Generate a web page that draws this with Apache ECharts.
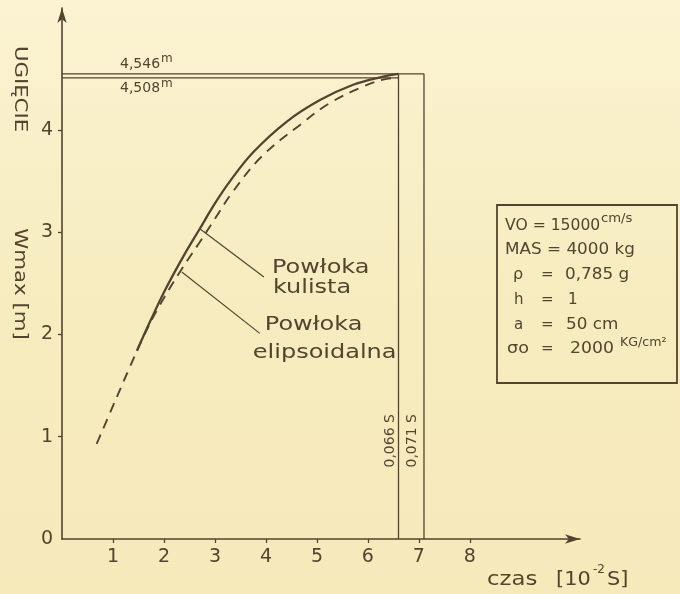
<!DOCTYPE html>
<html><head><meta charset="utf-8">
<script src="https://cdn.jsdelivr.net/npm/echarts@6/dist/echarts.min.js"></script>
<style>html,body{margin:0;padding:0;background:#f7edc3}#c{width:680px;height:594px}</style>
</head><body><div id="c"></div>
<script>
// ---- data (time in 10^-2 s, deflection in m) ----
const xTickValues = [1, 2, 3, 4, 5, 6, 7, 8];
const yTickValues = [0, 1, 2, 3, 4];
const kulistaT = [1.47, 1.75, 2.05, 2.4, 2.7, 3.0, 3.3, 3.75, 4.41, 5.06, 5.71, 6.3, 6.6];
const kulistaW = [1.84, 2.15, 2.46, 2.78, 3.03, 3.28, 3.50, 3.78, 4.08, 4.29, 4.44, 4.52, 4.546];
const elipsT = [0.68, 1.0, 1.33, 1.6, 1.9, 2.35, 2.7, 3.0, 3.33, 3.92, 4.7, 5.25, 5.9, 6.3, 6.6];
const elipsW = [0.93, 1.3, 1.68, 1.98, 2.27, 2.64, 2.9, 3.13, 3.38, 3.74, 4.06, 4.26, 4.42, 4.49, 4.508];
const maxW = [4.546, 4.508];
const maxWLabels = ['4,546', '4,508'];
const endT = [6.6, 7.1];
const endTLabels = ['0,066 S', '0,071 S'];
const leaderKulista = [[2.71, 3.03], [3.96, 2.56]];
const leaderElips = [[2.35, 2.61], [3.88, 2.01]];
const seriesNames = ['Powłoka kulista', 'Powłoka elipsoidalna'];

const ink = '#54432f';
const FONT = 'DejaVu Sans';
const zip = (a, b) => a.map((v, i) => [v, b[i]]);

const chart = echarts.init(document.getElementById('c'), null, {renderer: 'canvas'});

function T(text, x, y, size, opt) {
  opt = opt || {};
  return {
    type: 'text', x: x, y: y, rotation: opt.rot || 0,
    scaleX: opt.sx || 1, scaleY: 1, z: 10,
    style: {
      text: text, fontSize: size, fontFamily: FONT, fill: opt.color || ink,
      textAlign: opt.align || 'left', align: opt.align || 'left',
      textVerticalAlign: 'middle', verticalAlign: 'middle'
    }
  };
}

const lineStyleThin = {color: ink, width: 1.3};

const option = {
  backgroundColor: {
    type: 'linear', x: 0, y: 0, x2: 0, y2: 1,
    colorStops: [{offset: 0, color: '#fbf3d2'}, {offset: 0.5, color: '#f7ecbf'}, {offset: 1, color: '#f6eabb'}]
  },
  animation: false,
  grid: {left: 62, right: 100, top: 8, bottom: 55, containLabel: false},
  xAxis: {
    type: 'value', min: 0, max: 10.16, interval: 1,
    splitLine: {show: false},
    axisLine: {show: true, symbol: ['none', 'arrow'], symbolSize: [7, 15], lineStyle: {color: ink, width: 1.6}},
    axisTick: {show: true, customValues: xTickValues, length: 4, lineStyle: {color: ink, width: 1.3}},
    axisLabel: {customValues: xTickValues, color: ink, fontSize: 19, fontFamily: FONT, margin: 9}
  },
  yAxis: {
    type: 'value', min: 0, max: 5.19, interval: 1,
    splitLine: {show: false},
    axisLine: {show: true, symbol: ['none', 'arrow'], symbolSize: [7, 15], lineStyle: {color: ink, width: 1.6}},
    axisTick: {show: true, customValues: [1, 2, 3, 4], length: 4, lineStyle: {color: ink, width: 1.3}},
    axisLabel: {customValues: yTickValues, color: ink, fontSize: 19, fontFamily: FONT, margin: 9}
  },
  series: [
    {name: seriesNames[0], type: 'line', data: zip(kulistaT, kulistaW), smooth: 0.4,
      symbol: 'none', lineStyle: {color: ink, width: 2.3}, z: 5},
    {name: seriesNames[1], type: 'line', data: zip(elipsT, elipsW), smooth: 0.4,
      symbol: 'none', lineStyle: {color: ink, width: 1.9, type: [10, 7]}, z: 5},
    {type: 'line', data: [[0, maxW[0]], [endT[1], maxW[0]], [endT[1], 0]], symbol: 'none', lineStyle: lineStyleThin},
    {type: 'line', data: [[0, maxW[1]], [endT[0], maxW[1]]], symbol: 'none', lineStyle: lineStyleThin},
    {type: 'line', data: [[endT[0], 0], [endT[0], maxW[0]]], symbol: 'none', lineStyle: lineStyleThin},
    {type: 'line', data: leaderKulista, symbol: 'none', lineStyle: {color: ink, width: 1.2}},
    {type: 'line', data: leaderElips, symbol: 'none', lineStyle: {color: ink, width: 1.2}}
  ]
};
chart.setOption(option);

const p = (x, y) => chart.convertToPixel({gridIndex: 0}, [x, y]);
const pUp = p(0, maxW[0]), pLo = p(0, maxW[1]);
const v0 = p(endT[0], 0.96), v1 = p(endT[1], 0.96);
const gk = p(leaderKulista[1][0], leaderKulista[1][1]);
const ge = p(leaderElips[1][0], leaderElips[1][1]);

const g = [
  // level labels
  T(maxWLabels[0], 120, pUp[1] - 10, 14),
  T('m', 161, pUp[1] - 15, 12),
  T(maxWLabels[1], 120, pLo[1] + 11, 14),
  T('m', 161, pLo[1] + 6, 12),
  // time labels (vertical)
  T(endTLabels[0], v0[0] - 8, v0[1], 14, {rot: Math.PI / 2, align: 'center'}),
  T(endTLabels[1], (v0[0] + v1[0]) / 2 + 1, v1[1], 14, {rot: Math.PI / 2, align: 'center'}),
  // curve labels
  T('Powłoka', gk[0] + 8, gk[1] - 9, 20, {sx: 1.2}),
  T('kulista', gk[0] + 9, gk[1] + 11, 20, {sx: 1.2}),
  T('Powłoka', ge[0] + 5, ge[1] - 9, 20, {sx: 1.2}),
  T('elipsoidalna', ge[0] - 7, ge[1] + 19, 20, {sx: 1.2}),
  // axis titles
  T('UGIĘCIE', 19, 89, 17, {rot: -Math.PI / 2, align: 'center', sx: 1.25}),
  T('Wmax [m]', 19, 284, 17, {rot: -Math.PI / 2, align: 'center', sx: 1.25}),
  T('czas', 487, 580, 19, {sx: 1.2}),
  T('[10', 556, 580, 19, {sx: 1.1}),
  T('-2', 593, 570, 12),
  T('S]', 607, 580, 19, {sx: 1.1}),
  // parameter box
  {type: 'rect', shape: {x: 497, y: 205, width: 180, height: 178}, z: 10,
    style: {fill: 'none', stroke: ink, lineWidth: 1.8}},
  T('VO = 15000', 505, 226, 15, {sx: 1.04}),
  T('cm/s', 601, 219, 12, {sx: 1.1}),
  T('MAS = 4000 kg', 505, 250, 15, {sx: 1.12}),
  T('ρ', 513, 275, 16),
  T('=', 541, 275, 15),
  T('0,785 g', 565, 275, 15, {sx: 1.12}),
  T('h', 514, 300, 15),
  T('=', 541, 300, 15),
  T('1', 568, 300, 15),
  T('a', 514, 325, 15),
  T('=', 541, 325, 15),
  T('50 cm', 566, 325, 15, {sx: 1.12}),
  T('σo', 507, 349, 16, {sx: 1.1}),
  T('=', 541, 349, 15),
  T('2000', 570, 349, 15, {sx: 1.15}),
  T('KG/cm²', 620, 343, 12, {sx: 1.05})
];
chart.setOption({graphic: {elements: g}});
</script>
</body></html>
